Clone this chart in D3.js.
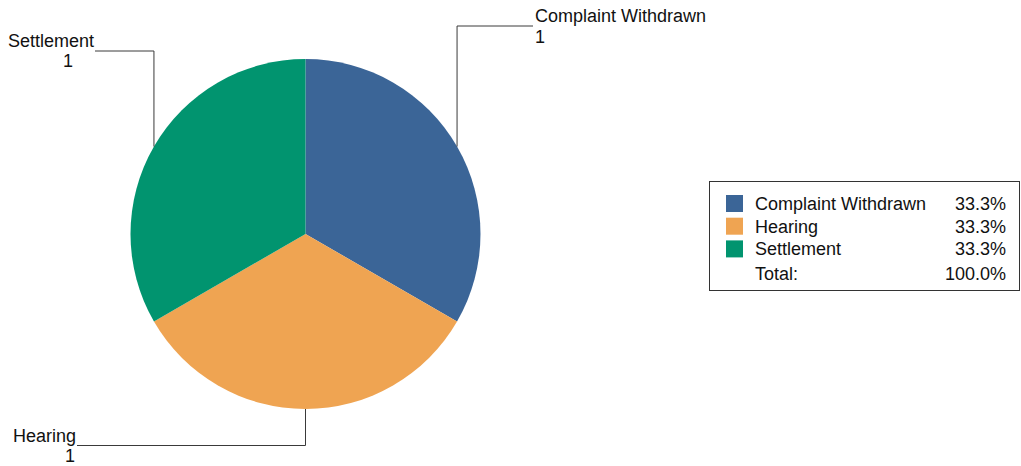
<!DOCTYPE html>
<html>
<head>
<meta charset="utf-8">
<script src="https://cdn.jsdelivr.net/npm/d3@7"></script>
<style>
  html, body { margin: 0; padding: 0; background: #fff; }
  svg { display: block; font-family: "Liberation Sans", Arial, sans-serif; }
</style>
</head>
<body>
<svg id="chart" width="1021" height="466"></svg>
<script>
const categories = ["Complaint Withdrawn", "Hearing", "Settlement"];
const values = [1, 1, 1];
const colors = ["#3b6597", "#efa452", "#01946f"];

const W = 1021, H = 466;
const cx = 305.5, cy = 234, R = 175;
const svg = d3.select("#chart");

const pie = d3.pie().sort(null).value(d => d.value);
const data = categories.map((c, i) => ({ name: c, value: values[i], color: colors[i] }));
const arcs = pie(data);
const total = d3.sum(values);

const arc = d3.arc().innerRadius(0).outerRadius(R);
const g = svg.append("g").attr("transform", `translate(${cx},${cy})`);
g.selectAll("path").data(arcs).join("path")
  .attr("d", arc)
  .attr("fill", d => d.data.color);

// leader-line layout: elbow y (absolute) and end x (absolute), label side
const layout = {
  "Complaint Withdrawn": { elbowY: 26, endX: 533, side: "right", nameY: 22, valY: 43, valX: 535 },
  "Hearing":             { elbowY: 445.5, endX: 77, side: "left", nameY: 441.5, valY: 461.5, valX: 75 },
  "Settlement":          { elbowY: 51, endX: 95, side: "left", nameY: 46.5, valY: 66.5, valX: 73 }
};

const labels = svg.append("g");
arcs.forEach(a => {
  const mid = (a.startAngle + a.endAngle) / 2;
  const px = cx + R * Math.sin(mid);
  const py = cy - R * Math.cos(mid);
  const L = layout[a.data.name];
  labels.append("polyline")
    .attr("points", `${px},${py} ${px},${L.elbowY} ${L.endX},${L.elbowY}`)
    .attr("fill", "none").attr("stroke", "#3a3a3a").attr("stroke-width", 1);
  const anchor = L.side === "right" ? "start" : "end";
  const nx = L.side === "right" ? L.endX + 2 : L.endX - 1;
  labels.append("text").attr("x", nx).attr("y", L.nameY)
    .attr("text-anchor", anchor).attr("font-size", 18).attr("fill", "#111")
    .text(a.data.name);
  labels.append("text").attr("x", L.valX).attr("y", L.valY)
    .attr("text-anchor", L.side === "right" ? "start" : "end").attr("font-size", 18).attr("fill", "#111")
    .text(a.data.value);
});

// legend
const lg = svg.append("g");
lg.append("rect").attr("x", 709.5).attr("y", 181.5).attr("width", 310).attr("height", 109)
  .attr("fill", "#fff").attr("stroke", "#333").attr("stroke-width", 1);
const fmt = d3.format(".1%");
const rowY = d3.scaleLinear().domain([0, 1]).range([210, 232.7]);
arcs.forEach((a, i) => {
  const y = rowY(i);
  lg.append("rect").attr("x", 726).attr("y", y - 15).attr("width", 17).attr("height", 17)
    .attr("fill", a.data.color);
  lg.append("text").attr("x", 755).attr("y", y).attr("font-size", 18).attr("fill", "#111")
    .text(a.data.name);
  lg.append("text").attr("x", 1006).attr("y", y).attr("text-anchor", "end")
    .attr("font-size", 18).attr("fill", "#111").text(fmt(a.data.value / total));
});
lg.append("text").attr("x", 755).attr("y", rowY(3) + 2).attr("font-size", 18).attr("fill", "#111").text("Total:");
lg.append("text").attr("x", 1006).attr("y", rowY(3) + 2).attr("text-anchor", "end")
  .attr("font-size", 18).attr("fill", "#111").text(fmt(1));
</script>
</body>
</html>
